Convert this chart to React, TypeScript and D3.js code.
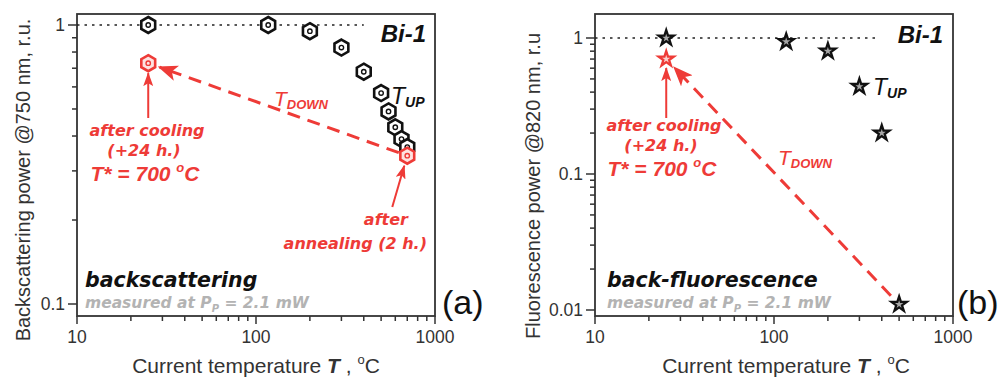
import React from 'react';
import * as d3 from 'd3';

// Panel (a): backscattering power at 750 nm while heating (T_UP)
const tempUpA = [25, 117, 200, 300, 400, 500, 550, 600, 650, 700];
const powerUpA = [1.0, 1.0, 0.95, 0.83, 0.68, 0.57, 0.49, 0.43, 0.39, 0.365];
// red points: after annealing (2 h.) at 700 °C, then after cooling (+24 h.)
const tempDownA = [700, 25];
const powerDownA = [0.34, 0.73];

// Panel (b): back-fluorescence power at 820 nm while heating (T_UP)
const tempUpB = [25, 117, 200, 300, 400, 500];
const powerUpB = [1.0, 0.94, 0.8, 0.44, 0.2, 0.011];
// red point after cooling (+24 h.); T_DOWN starts from the 500 °C point
const tempDownB = [500, 25];
const powerDownB = [0.011, 0.7];

const xTickLabels = [10, 100, 1000];
const yTickLabelsA = [0.1, 1];
const yTickLabelsB = [0.01, 0.1, 1];
const refLineEndA = 400;
const refLineEndB = 370;

const RED = '#ee3b37';
const AXIS = '#333';
const FONT = '"Liberation Sans", Arial, sans-serif';
const NOTE_FONT = '"DejaVu Sans", Verdana, sans-serif';

function hexPath(r: number) {
  const pts = d3.range(6).map((k) => {
    const a = (Math.PI / 180) * (-90 + 60 * k);
    return [r * Math.cos(a), r * Math.sin(a)];
  });
  return 'M' + pts.map((p) => p.join(',')).join('L') + 'Z';
}

const starPath = d3.symbol(d3.symbolStar, 72)() as string;

function Hex({ x, y, color }: { x: number; y: number; color: string }) {
  return (
    <g transform={`translate(${x},${y})`}>
      <path d={hexPath(8)} fill={color === RED ? '#fde3e1' : '#fff'} stroke={color} strokeWidth={2.6} />
      <circle r={2.2} fill="none" stroke={color} strokeWidth={1.4} />
    </g>
  );
}

function Star({ x, y, color }: { x: number; y: number; color: string }) {
  return (
    <g transform={`translate(${x},${y})`}>
      <path d={starPath} fill={color === RED ? '#fbd0cd' : '#a8a8a8'} stroke={color} strokeWidth={2.3} strokeLinejoin="miter" />
    </g>
  );
}

type Scale = d3.ScaleLogarithmic<number, number>;

function Axes({ x, y, left, right, top, bottom, yLabels }: {
  x: Scale; y: Scale; left: number; right: number; top: number; bottom: number; yLabels: number[];
}) {
  const isMajor = (v: number) => Math.abs(Math.log10(v) - Math.round(Math.log10(v))) < 1e-6;
  const xt = x.ticks();
  const yt = y.ticks();
  return (
    <g>
      {xt.map((t) => (
        <line key={'x' + t} x1={x(t)} x2={x(t)} y1={bottom} y2={bottom + (isMajor(t) ? 8 : 5)} stroke={AXIS} strokeWidth={1.5} />
      ))}
      {yt.map((t) => (
        <line key={'y' + t} x1={left - (isMajor(t) ? 9 : 5)} x2={left} y1={y(t)} y2={y(t)} stroke={AXIS} strokeWidth={1.5} />
      ))}
      <rect x={left} y={top} width={right - left} height={bottom - top} fill="none" stroke={AXIS} strokeWidth={1.8} />
      {xTickLabels.map((t) => (
        <text key={'xl' + t} x={x(t)} y={bottom + 27} textAnchor="middle" fontSize={17.5} fill={AXIS} fontFamily={FONT}>{t}</text>
      ))}
      {yLabels.map((t) => (
        <text key={'yl' + t} x={left - 12} y={y(t) + 6} textAnchor="end" fontSize={17.5} fill={AXIS} fontFamily={FONT}>{t}</text>
      ))}
    </g>
  );
}

function shorten(x1: number, y1: number, x2: number, y2: number, s1: number, s2: number) {
  const dx = x2 - x1, dy = y2 - y1;
  const L = Math.hypot(dx, dy);
  return {
    x1: x1 + (dx / L) * s1, y1: y1 + (dy / L) * s1,
    x2: x2 - (dx / L) * s2, y2: y2 - (dy / L) * s2,
  };
}

function XTitle({ cx, y }: { cx: number; y: number }) {
  return (
    <text x={cx} y={y} textAnchor="middle" fontSize={21} fill={AXIS} fontFamily={FONT}>
      Current temperature <tspan fontWeight="bold" fontStyle="italic">T</tspan> , <tspan fontSize={13} dy={-9}>o</tspan><tspan dy={9}>C</tspan>
    </text>
  );
}

function CoolingNote({ cx, y }: { cx: number; y: number }) {
  return (
    <g fill={RED} fontWeight="bold" fontStyle="italic">
      <text x={cx} y={y} textAnchor="middle" fontSize={16} fontFamily={NOTE_FONT}>after cooling</text>
      <text x={cx - 3} y={y + 20} textAnchor="middle" fontSize={16} fontFamily={NOTE_FONT}>(+24 h.)</text>
      <text x={cx - 2} y={y + 45} textAnchor="middle" fontSize={21} fontFamily={FONT}>T* = 700 <tspan fontSize={13} dy={-9}>o</tspan><tspan dy={9}>C</tspan></text>
    </g>
  );
}

function Notes({ x, y, title }: { x: number; y: number; title: string }) {
  return (
    <g fontFamily={NOTE_FONT} fontWeight="bold" fontStyle="italic">
      <text x={x} y={y} fontSize={20.5} fill="#111">{title}</text>
      <text x={x} y={y + 21} fontSize={15.5} fill="#b3b3b3">measured at P<tspan fontSize={10} dy={4}>P</tspan><tspan dy={-4}> = 2.1 mW</tspan></text>
    </g>
  );
}

export default function App() {
  const xA = d3.scaleLog().domain([10, 1000]).range([77, 435]);
  const yA = d3.scaleLog().domain([0.1, 1]).range([304, 25]);
  const xB = d3.scaleLog().domain([10, 1000]).range([595, 953]);
  const yB = d3.scaleLog().domain([0.01, 1]).range([310, 38]);

  // T_DOWN arrows: annealed/last point -> cooled point
  const dA = shorten(xA(tempDownA[0]), yA(powerDownA[0]), xA(tempDownA[1]), yA(powerDownA[1]), 9, 12);
  const dB = shorten(xB(tempDownB[0]), yB(powerDownB[0]), xB(tempDownB[1]), yB(powerDownB[1]), 12, 12);

  const cooledA = { x: xA(tempDownA[1]), y: yA(powerDownA[1]) };
  const annealedA = { x: xA(tempDownA[0]), y: yA(powerDownA[0]) };
  const cooledB = { x: xB(tempDownB[1]), y: yB(powerDownB[1]) };

  return (
    <svg width={1002} height={377} style={{ position: 'absolute', left: 0, top: 0, background: '#fff' }} fontFamily={FONT}>
      <defs>
        <marker id="bigHead" markerUnits="userSpaceOnUse" viewBox="0 0 20 16" refX={18} refY={8} markerWidth={20} markerHeight={16} orient="auto">
          <path d="M0,0 L20,8 L0,16 L5,8 Z" fill={RED} />
        </marker>
        <marker id="smallHead" markerUnits="userSpaceOnUse" viewBox="0 0 14 10" refX={13} refY={5} markerWidth={14} markerHeight={10} orient="auto">
          <path d="M0,0 L14,5 L0,10 L3,5 Z" fill={RED} />
        </marker>
      </defs>

      {/* ---------- panel (a) ---------- */}
      <Axes x={xA} y={yA} left={77} right={435} top={14} bottom={316} yLabels={yTickLabelsA} />
      <line x1={77} x2={xA(refLineEndA)} y1={yA(1)} y2={yA(1)} stroke="#222" strokeWidth={1.6} strokeDasharray="2.5,5" />
      {tempUpA.map((t, i) => (
        <Hex key={'ha' + i} x={xA(t)} y={yA(powerUpA[i])} color="#111" />
      ))}
      <line {...dA} stroke={RED} strokeWidth={3} strokeDasharray="13,8" markerEnd="url(#bigHead)" />
      {tempDownA.map((t, i) => (
        <Hex key={'ra' + i} x={xA(t)} y={yA(powerDownA[i])} color={RED} />
      ))}
      <line x1={cooledA.x} x2={cooledA.x} y1={118} y2={cooledA.y + 10} stroke={RED} strokeWidth={2} markerEnd="url(#smallHead)" />
      <line x1={annealedA.x - 15} x2={annealedA.x - 3} y1={207} y2={annealedA.y + 10} stroke={RED} strokeWidth={2} markerEnd="url(#smallHead)" />
      <CoolingNote cx={147} y={136} />
      <g fill={RED} fontFamily={NOTE_FONT} fontWeight="bold" fontStyle="italic" fontSize={16} textAnchor="end">
        <text x={408} y={225}>after</text>
        <text x={427} y={249}>annealing (2 h.)</text>
      </g>
      <text x={274} y={106} fill={RED} fontStyle="italic" fontSize={21}>T<tspan fontSize={13} fontWeight="bold" dy={3}>DOWN</tspan></text>
      <text x={391} y={104} fill="#111" fontStyle="italic" fontSize={23}>T<tspan fontSize={14} fontWeight="bold" dy={3}>UP</tspan></text>
      <text x={426} y={42} textAnchor="end" fill="#111" fontWeight="bold" fontStyle="italic" fontSize={24}>Bi-1</text>
      <Notes x={85} y={287} title="backscattering" />
      <text x={442} y={314} fontSize={34} fill="#111">(a)</text>
      <XTitle cx={256} y={373} />
      <text transform="translate(30,180) rotate(-90)" textAnchor="middle" fontSize={20} fill={AXIS}>Backscattering power @750 nm, r.u.</text>

      {/* ---------- panel (b) ---------- */}
      <Axes x={xB} y={yB} left={595} right={953} top={14} bottom={316} yLabels={yTickLabelsB} />
      <line x1={595} x2={xB(refLineEndB)} y1={yB(1)} y2={yB(1)} stroke="#222" strokeWidth={1.6} strokeDasharray="2.5,5" />
      <line {...dB} stroke={RED} strokeWidth={3} strokeDasharray="13,8" markerEnd="url(#bigHead)" />
      {tempUpB.map((t, i) => (
        <Star key={'sb' + i} x={xB(t)} y={yB(powerUpB[i])} color="#111" />
      ))}
      <Star x={cooledB.x} y={cooledB.y} color={RED} />
      <line x1={cooledB.x} x2={cooledB.x} y1={118} y2={cooledB.y + 9} stroke={RED} strokeWidth={2} markerEnd="url(#smallHead)" />
      <CoolingNote cx={664} y={131} />
      <text x={778} y={165} fill={RED} fontStyle="italic" fontSize={21}>T<tspan fontSize={13} fontWeight="bold" dy={3}>DOWN</tspan></text>
      <text x={873} y={95} fill="#111" fontStyle="italic" fontSize={23}>T<tspan fontSize={14} fontWeight="bold" dy={3}>UP</tspan></text>
      <text x={943} y={43} textAnchor="end" fill="#111" fontWeight="bold" fontStyle="italic" fontSize={24}>Bi-1</text>
      <Notes x={607} y={287} title="back-fluorescence" />
      <text x={957} y={314} fontSize={34} fill="#111">(b)</text>
      <XTitle cx={786} y={373} />
      <text transform="translate(540,186) rotate(-90)" textAnchor="middle" fontSize={20} fill={AXIS}>Fluorescence power @820 nm, r.u</text>
    </svg>
  );
}
